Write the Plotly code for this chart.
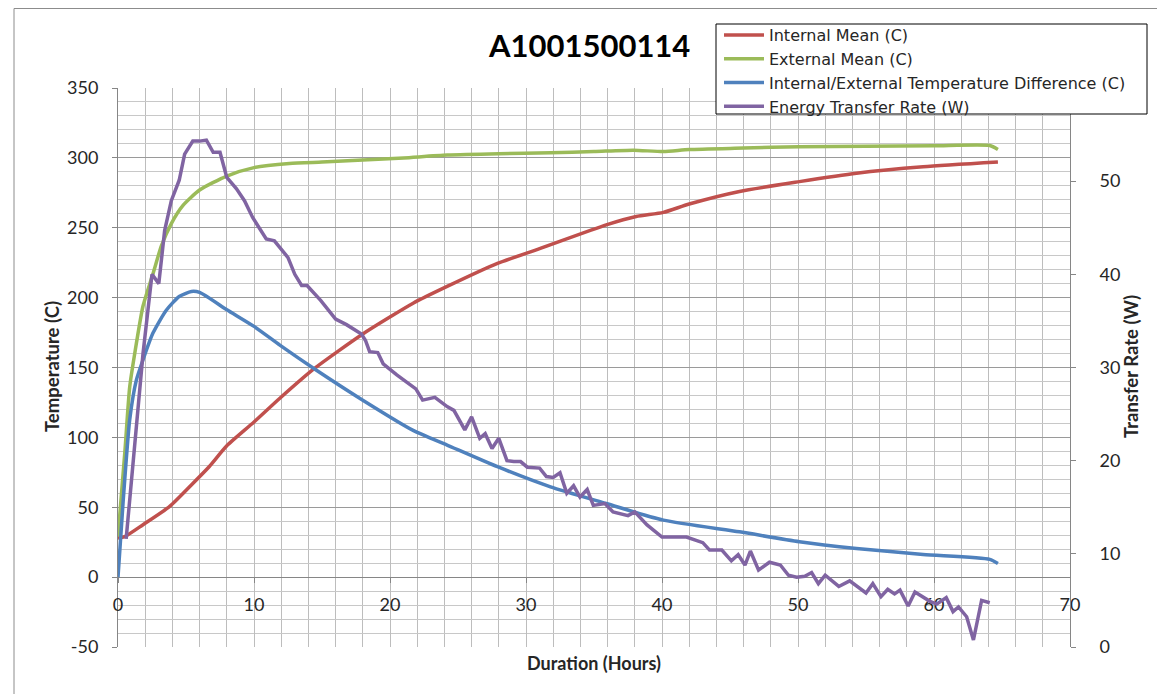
import plotly.graph_objects as go

# ---------------- data ----------------
hours_internal = [0, 0.5, 1.84, 3.8, 5.5, 6.7, 8, 10, 11.9, 14.4, 18, 21.7, 24.2, 27.9,
                  31, 35.9, 38.1, 40.1, 42, 45.7, 50.1, 54.3, 59.2, 64.7]
internal_mean = [28, 29, 37.5, 50.6, 67, 79, 94, 111, 128, 149, 174, 196, 208, 224.5,
                 235, 252, 258, 261, 267, 276, 283, 289, 293.6, 297]

hours_external = [0, 0.5, 0.86, 1.23, 1.84, 2.57, 3.19, 3.92, 4.78, 6.0, 8.0, 10.0, 12.6,
                  15, 18, 21, 24.2, 28, 31.8, 35, 37.9, 40.1, 42, 46, 50.1, 55, 60, 64.1, 64.7]
external_mean = [29, 89, 136, 160, 194, 217, 237, 253, 266, 277, 287, 293, 296,
                 297, 298.4, 300, 302, 303, 303.6, 304.5, 305.5, 304.5, 306, 307, 308, 308.3,
                 308.6, 308.8, 306]

hours_diff = [0, 0.37, 0.86, 1.35, 1.84, 2.57, 3.55, 4.5, 5.4, 6.0, 8.0, 10.0, 11.9, 14.4,
              18, 21.7, 24.2, 27.9, 31.8, 35.9, 40.1, 45.7, 50.1, 54.3, 59.2, 64.1, 64.7]
temp_difference = [0, 53, 112.6, 141, 155.5, 174.6, 191, 200.8, 204.4, 203.7, 191.3, 179.4,
                   166, 149.3, 126.6, 105, 94.5, 79, 64.6, 52.7, 40.8, 32.4, 25.3, 20.5,
                   16.2, 12.7, 9.8]

hours_rate = [0.6, 1.35, 1.84, 2.5, 3.0, 3.43, 3.92, 4.5, 4.9, 5.5, 6.0, 6.5, 7.0, 7.5, 8.0,
              8.7, 9.3, 9.9, 10.9, 11.5, 12.1, 12.5, 13.0, 13.5, 13.9, 14.9, 16.0, 16.8, 17.9,
              18.2, 18.5, 19.1, 19.5, 20.5, 21.9, 22.4, 23.3, 24.2, 24.7, 25.2, 25.5, 26.0,
              26.6, 27.0, 27.5, 28.0, 28.6, 29.1, 29.6, 30.1, 31.0, 31.5, 32.0, 32.5, 33.0,
              33.5, 33.97, 34.5, 34.95, 35.8, 36.4, 37.5, 38.0, 38.9, 40.0, 41.8, 43.0, 43.5,
              44.4, 45.1, 45.6, 46.1, 46.5, 47.1, 47.9, 48.7, 49.3, 49.9, 50.5, 51.0, 51.5,
              52.0, 53.0, 53.8, 55.0, 55.5, 56.1, 56.6, 57.1, 57.5, 58.1, 58.6, 59.2, 59.7,
              60.2, 60.9, 61.4, 61.8, 62.4, 62.9, 63.5, 64.1]
energy_rate = [11.6, 24.3, 31.5, 40.0, 39.0, 44.7, 47.9, 50.1, 52.9, 54.3, 54.3, 54.4, 53.1,
               53.1, 50.4, 49.2, 47.9, 46.1, 43.8, 43.6, 42.6, 41.8, 40.0, 38.8, 38.8, 37.2,
               35.2, 34.6, 33.6, 32.9, 31.7, 31.6, 30.4, 29.2, 27.7, 26.5, 26.8, 25.8, 25.4,
               24.0, 23.3, 24.7, 22.4, 22.9, 21.3, 22.4, 20.0, 19.9, 19.9, 19.3, 19.2, 18.3,
               18.2, 18.7, 16.5, 17.3, 16.1, 16.9, 15.2, 15.4, 14.5, 14.1, 14.5, 13.1, 11.8,
               11.8, 11.2, 10.4, 10.4, 9.25, 9.9, 8.8, 10.3, 8.25, 9.1, 8.8, 7.7, 7.5, 7.6,
               8.0, 6.8, 7.7, 6.5, 7.1, 5.8, 6.8, 5.4, 6.2, 5.7, 6.1, 4.4, 5.9, 5.3, 4.9, 4.6,
               5.3, 3.8, 4.3, 3.25, 0.75, 5.0, 4.75]

series_names = ["Internal Mean (C)", "External Mean (C)",
                "Internal/External Temperature Difference (C)", "Energy Transfer Rate (W)"]
series_colors = ["#C0504D", "#9BBB59", "#4F81BD", "#8064A2"]

temp_ticks = [-50, 0, 50, 100, 150, 200, 250, 300, 350]
temp_tick_labels = ["-50", "0", "50", "100", "150", "200", "250", "300", "350"]
rate_ticks = [0, 10, 20, 30, 40, 50]
hour_ticks = [0, 10, 20, 30, 40, 50, 60, 70]

title_text = "A1001500114"

# ---------------- figure ----------------
FONT = "Lato, 'Open Sans', sans-serif"
LEGEND_FONT = "'DejaVu Sans', Verdana, sans-serif"
OFF = 8                      # page body margin of the html page
W, H = 1165 - OFF, 694 - OFF
L, T = 118 - OFF, 88 - OFF
PW, PH = 952, 559
R, B = W - L - PW, H - T - PH


def px_x(px):
    return (px - OFF - L) / PW


def px_y(py):
    return (H - B - (py - OFF)) / PH


fig = go.Figure()
fig.add_trace(go.Scatter(x=hours_internal, y=internal_mean, name=series_names[0], mode="lines",
                         line=dict(color=series_colors[0], width=3.5, shape="spline", smoothing=0.6)))
fig.add_trace(go.Scatter(x=hours_external, y=external_mean, name=series_names[1], mode="lines",
                         line=dict(color=series_colors[1], width=3.5, shape="spline", smoothing=0.6)))
fig.add_trace(go.Scatter(x=hours_diff, y=temp_difference, name=series_names[2], mode="lines",
                         line=dict(color=series_colors[2], width=3.5, shape="spline", smoothing=0.6)))
fig.add_trace(go.Scatter(x=hours_rate, y=energy_rate, name=series_names[3], mode="lines",
                         yaxis="y2", line=dict(color=series_colors[3], width=3.5)))

axis_gray = "#868686"
tick_font = dict(family=FONT, size=18, color="#262626")

fig.update_layout(
    width=W, height=H, autosize=False,
    margin=dict(l=L, r=R, t=T, b=B, pad=0, autoexpand=False),
    paper_bgcolor="white", plot_bgcolor="white",
    font=dict(family=FONT, color="#262626"),
    showlegend=True,
    legend=dict(x=px_x(719), y=px_y(18), xanchor="left", yanchor="top",
                bgcolor="rgba(0,0,0,0)", borderwidth=0,
                font=dict(family=LEGEND_FONT, size=16, color="#262626"),
                tracegroupgap=0, itemwidth=40),
    xaxis=dict(range=[0, 70], tickvals=hour_ticks, anchor="free",
               position=50 / 400, showgrid=True, gridcolor="#bdbdbd", gridwidth=1,
               minor=dict(dtick=2, tick0=0, showgrid=True, gridcolor="#bdbdbd", gridwidth=1),
               showline=True, linecolor=axis_gray, linewidth=1,
               ticks="outside", ticklen=5, tickcolor=axis_gray,
               ticklabelstandoff=6, tickfont=tick_font, zeroline=False, layer="below traces"),
    yaxis=dict(range=[-50, 350], tickvals=temp_ticks, ticktext=temp_tick_labels,
               showgrid=True, gridcolor="#9a9a9a", gridwidth=1,
               minor=dict(dtick=10, tick0=0, showgrid=True, gridcolor="#c8c8c8", gridwidth=1),
               showline=True, linecolor=axis_gray, linewidth=1, ticks="outside", ticklen=5,
               tickcolor=axis_gray, ticklabelstandoff=10, tickfont=tick_font, zeroline=False,
               layer="below traces"),
    yaxis2=dict(range=[0, 60], tickvals=rate_ticks, overlaying="y", side="right",
                showgrid=False, showline=True, linecolor=axis_gray, linewidth=1,
                ticks="outside", ticklen=5, tickcolor=axis_gray, ticklabelstandoff=20,
                tickfont=tick_font, zeroline=False),
)

annotations = [
    dict(text=f"<b>{title_text}</b>", x=px_x(589), y=px_y(45), xref="paper", yref="paper",
         showarrow=False, xanchor="center", yanchor="middle",
         font=dict(family=FONT, size=31, color="black")),
    dict(text="<b>Duration (Hours)</b>", x=px_x(594), y=px_y(663), xref="paper", yref="paper",
         showarrow=False, xanchor="center", yanchor="middle",
         font=dict(family=FONT, size=18, color="#262626")),
    dict(text="<b>Temperature (C)</b>", x=px_x(52), y=px_y(367), xref="paper", yref="paper",
         showarrow=False, xanchor="center", yanchor="middle", textangle=-90,
         font=dict(family=FONT, size=18.5, color="#262626")),
    dict(text="<b>Transfer Rate (W)</b>", x=px_x(1131), y=px_y(367), xref="paper", yref="paper",
         showarrow=False, xanchor="center", yanchor="middle", textangle=-90,
         font=dict(family=FONT, size=18.5, color="#262626")),
]
fig.update_layout(annotations=annotations)

# outer chart border
fig.add_shape(type="rect", xref="paper", yref="paper",
              x0=px_x(14), x1=px_x(1161), y0=px_y(705), y1=px_y(8.5),
              line=dict(color="#8c8c8c", width=1), fillcolor="rgba(0,0,0,0)", layer="below")
# legend frame
fig.add_shape(type="rect", xref="paper", yref="paper",
              x0=px_x(716), x1=px_x(1147), y0=px_y(114), y1=px_y(24),
              line=dict(color="black", width=1), fillcolor="white", layer="above")

fig.write_html("out.html")
